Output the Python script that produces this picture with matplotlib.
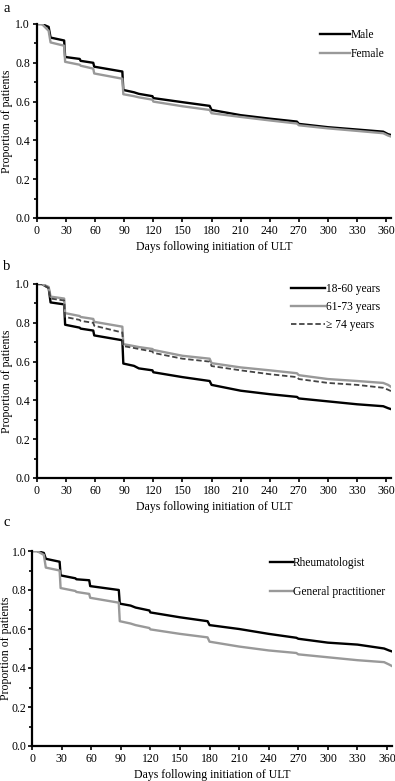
import matplotlib
matplotlib.use("Agg")
import matplotlib.pyplot as plt
from matplotlib.ticker import MultipleLocator

plt.rcParams['font.family'] = ['Liberation Serif', 'DejaVu Serif']
plt.rcParams['font.size'] = 8.3

# shared time grid (days), with duplicated days for the sharp drops
days = [0, 5, 12, 14, 28, 29, 44, 45, 58, 59, 88, 89, 100, 105, 119, 120,
        150, 178, 180, 210, 240, 268, 270, 300, 330, 357, 362, 365]

# panel a: sex
male = [1.0, 1.0, 0.985, 0.93, 0.915, 0.83, 0.82, 0.81, 0.80, 0.78, 0.755, 0.66,
        0.648, 0.64, 0.628, 0.618, 0.597, 0.578, 0.557, 0.53, 0.512, 0.497,
        0.485, 0.468, 0.456, 0.445, 0.432, 0.428]
female = [1.0, 1.0, 0.965, 0.905, 0.888, 0.805, 0.79, 0.785, 0.77, 0.745, 0.718, 0.638,
          0.628, 0.622, 0.61, 0.600, 0.576, 0.557, 0.54, 0.521, 0.503, 0.487,
          0.478, 0.462, 0.449, 0.437, 0.425, 0.42]

# panel b: age group
age_18_60 = [1.0, 1.0, 0.98, 0.905, 0.895, 0.79, 0.775, 0.77, 0.76, 0.735, 0.71, 0.59,
             0.578, 0.565, 0.555, 0.545, 0.52, 0.50, 0.48, 0.45, 0.432, 0.418,
             0.41, 0.395, 0.38, 0.37, 0.36, 0.355]
age_61_73 = [1.0, 1.0, 0.985, 0.935, 0.925, 0.85, 0.835, 0.83, 0.82, 0.805, 0.78, 0.69,
             0.68, 0.675, 0.665, 0.66, 0.63, 0.615, 0.592, 0.57, 0.555, 0.54,
             0.53, 0.51, 0.50, 0.49, 0.48, 0.47]
age_74 = [1.0, 1.0, 0.98, 0.925, 0.915, 0.83, 0.815, 0.81, 0.80, 0.785, 0.75, 0.68,
          0.67, 0.665, 0.652, 0.645, 0.615, 0.60, 0.577, 0.555, 0.535, 0.52,
          0.51, 0.49, 0.48, 0.465, 0.455, 0.448]

# panel c: prescriber
rheum = [1.0, 1.0, 0.99, 0.96, 0.945, 0.875, 0.86, 0.855, 0.85, 0.82, 0.80, 0.73,
         0.72, 0.71, 0.695, 0.685, 0.66, 0.64, 0.62, 0.60, 0.575, 0.555,
         0.55, 0.53, 0.52, 0.50, 0.49, 0.485]
gp = [1.0, 1.0, 0.98, 0.915, 0.90, 0.81, 0.795, 0.79, 0.78, 0.76, 0.735, 0.64,
      0.628, 0.62, 0.605, 0.598, 0.575, 0.557, 0.535, 0.51, 0.49, 0.477,
      0.47, 0.455, 0.44, 0.43, 0.418, 0.41]

x_ticks = list(range(0, 361, 30))
y_ticks = [0.0, 0.2, 0.4, 0.6, 0.8, 1.0]

W, H = 395, 781
fig = plt.figure(figsize=(W / 100, H / 100), dpi=100)


def make_axes(left_px, top_px, bottom_px, right_px):
    ax = fig.add_axes([left_px / W, 1 - bottom_px / H,
                       (right_px - left_px) / W, (bottom_px - top_px) / H])
    ax.px = (left_px, top_px, bottom_px, right_px)
    return ax


def style(ax, ypad=2, ylab_x=1):
    left_px, top_px, bottom_px, right_px = ax.px
    ax.set_xlim(0, 365)
    ax.set_ylim(0, 1.0)
    ax.spines['top'].set_visible(False)
    ax.spines['right'].set_visible(False)
    ax.spines['left'].set_linewidth(1.6)
    ax.spines['bottom'].set_linewidth(1.6)
    ax.set_xticks(x_ticks)
    ax.set_yticks(y_ticks)
    ax.set_yticklabels([f"{v:.1f}" for v in y_ticks])
    ax.yaxis.set_minor_locator(MultipleLocator(0.1))
    ax.tick_params(axis='both', which='major', length=3, width=1.2, pad=2, labelsize=8.5)
    ax.tick_params(axis='y', which='major', pad=ypad)
    ax.tick_params(axis='y', which='minor', length=2, width=1.2)
    ax.set_xlabel("Days following initiation of ULT", fontsize=8.5)
    ax.set_ylabel("Proportion of patients", fontsize=8.5)
    # label positions in pixels from the reference
    ax.xaxis.set_label_coords(0.5, -23 / (bottom_px - top_px))
    ax.yaxis.set_label_coords((ylab_x - left_px) / (right_px - left_px), 0.5)
    ax.yaxis.label.set_va('top')


# panel a
ax_a = make_axes(37, 24, 218, 391)
ax_a.plot(days, male, color='black', lw=1.7, label='Male')
ax_a.plot(days, female, color='#999999', lw=1.7, label='Female')
style(ax_a)
ax_a.legend(loc='upper right', bbox_to_anchor=(1.01, 1.03), frameon=False,
            handlelength=2.6, handletextpad=0.0, labelspacing=0.65, fontsize=8.3)
fig.text(3 / W, 1 - 8 / H, "a", fontsize=10.5, va='center')

# panel b
ax_b = make_axes(37, 284, 478, 391)
ax_b.plot(days, age_18_60, color='black', lw=1.7, label='18-60 years')
ax_b.plot(days, age_61_73, color='#999999', lw=1.7, label='61-73 years')
ax_b.plot(days, age_74, color='#444444', lw=1.3, ls=(0, (3, 1.5)), label='\u2265 74 years')
style(ax_b)
ax_b.legend(loc='upper right', bbox_to_anchor=(1.0, 1.06), frameon=False,
            handlelength=2.9, handletextpad=0.15, labelspacing=0.55, fontsize=8.3)
fig.text(3 / W, 1 - 267 / H, "b", fontsize=10.5, va='center')

# panel c
ax_c = make_axes(32, 551, 746, 392)
ax_c.plot(days, rheum, color='black', lw=1.7, label='Rheumatologist')
ax_c.plot(days, gp, color='#999999', lw=1.7, label='General practitioner')
style(ax_c, ypad=1, ylab_x=0)
ax_c.legend(loc='upper right', bbox_to_anchor=(1.01, 1.02), frameon=False,
            handlelength=2.0, handletextpad=0.0, labelspacing=1.4, fontsize=8.3)
fig.text(3 / W, 1 - 523 / H, "c", fontsize=10.5, va='center')

fig.savefig("out.png", dpi=100)
